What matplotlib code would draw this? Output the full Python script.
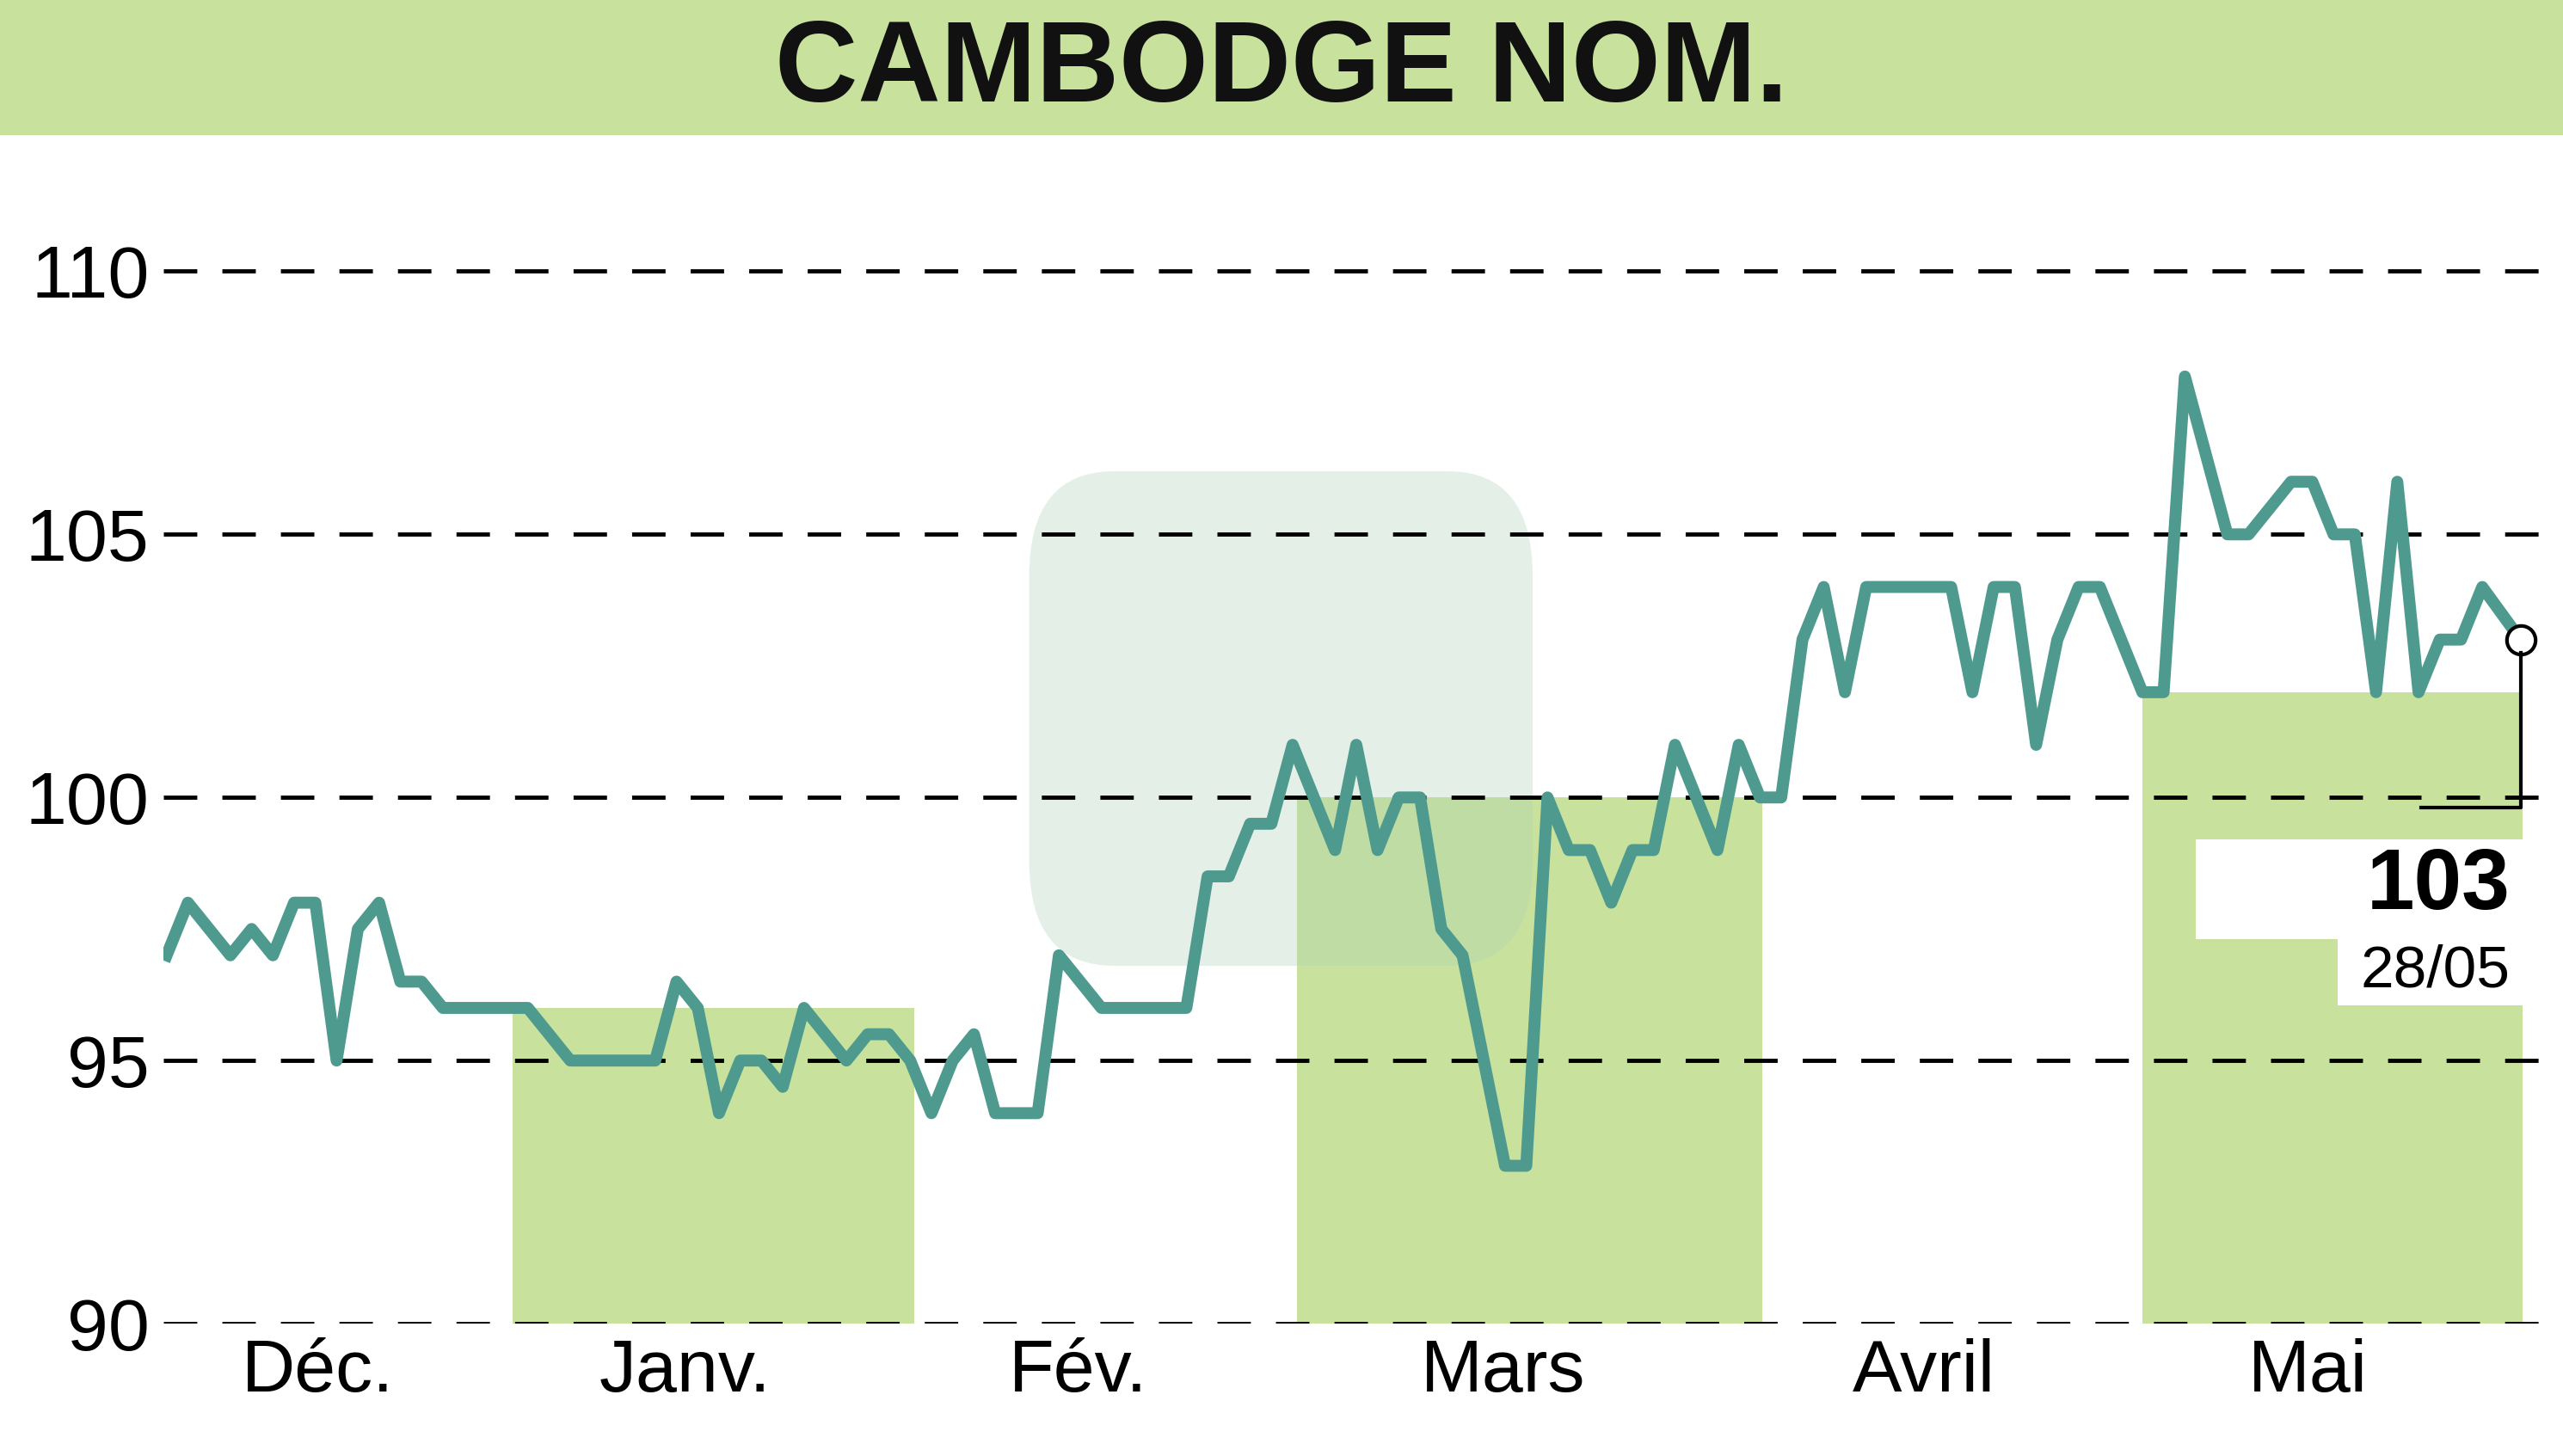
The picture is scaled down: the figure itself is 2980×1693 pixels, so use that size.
import matplotlib
matplotlib.use("Agg")
import matplotlib.pyplot as plt
from matplotlib.patches import Rectangle, FancyBboxPatch

title = "CAMBODGE NOM."
day_index = [0,1,3,4,5,6,7,8,9,10,11,12,13,14,15,16,17,19,23,24,25,26,27,28,29,30,32,33,34,35,36,37,38,39,41,42,44,48,49,50,51,52,53,55,56,57,58,59,60,61,63,64,65,66,67,68,69,70,71,73,74,75,76,77,78,79,80,84,85,86,87,88,89,90,91,93,94,95,97,98,100,101,102,103,104,105,106,107,108,109,110.8]
prices = [97,98,97,97.5,97,98,98,95,97.5,98,96.5,96.5,96,96,96,96,96,95,95,96.5,96,94,95,95,94.5,96,95,95.5,95.5,95,94,95,95.5,94,94,97,96,96,98.5,98.5,99.5,99.5,101,99,101,99,100,100,97.5,97,93,93,100,99,99,98,99,99,101,99,101,100,100,103,104,102,104,104,102,104,104,101,103,104,104,102,102,108,105,105,106,106,105,105,102,106,102,103,103,104,103]
month_labels = ["Déc.","Janv.","Fév.","Mars","Avril","Mai"]
month_pos = [7.1,24.4,42.9,62.9,82.7,100.8]
band_start = [16.3,53.2,93.0]
band_end = [35.2,75.1,110.9]
band_top = [96,100,102]
yticks = [90,95,100,105,110]
last_value = "103"
last_date = "28/05"

green = "#c8e29e"
line_c = "#4e9a8e"

fig = plt.figure(figsize=(29.8,16.93), dpi=100)
fig.patches.append(Rectangle((0,1-82/891),1,82/891,transform=fig.transFigure,color=green,zorder=0))
fig.text(0.5,1-44/891,title,ha="center",va="center",fontsize=96,fontweight="bold",
         family="Liberation Sans",color="#111")

ax = fig.add_axes([100/1568, 1-810/891, 1-100/1568, (810-101.6)/891])
ax.set_xlim(-0.15,112.8)
ax.set_ylim(90,112)
for s in ax.spines.values(): s.set_visible(False)
ax.set_yticks(yticks)
ax.set_yticklabels([str(v) for v in yticks], fontsize=62, family="Liberation Sans")
ax.tick_params(length=0, pad=12)
ax.set_xticks(month_pos)
ax.set_xticklabels(month_labels, fontsize=62, family="Liberation Sans")
for y in yticks:
    ax.axhline(y,color="black",ls=(0,(8,6)),lw=3.5,zorder=2)
for a,b,t in zip(band_start,band_end,band_top):
    ax.fill_between([a,b],90,t,color=green,lw=0,zorder=1)
# watermark
ax.add_patch(FancyBboxPatch((40.6,96.8),23.7,9.4,boxstyle="round,pad=0,rounding_size=4",
             color="#a8d0b0",alpha=0.3,lw=0,zorder=1.5,mutation_aspect=0.5))
ax.plot(day_index,prices,color=line_c,lw=10,zorder=3)
ax.plot(day_index[-1],prices[-1],"o",ms=24,mfc="white",mec="black",mew=3,zorder=4)
ax.plot([day_index[-1],day_index[-1],106.1],[prices[-1]-0.25,99.8,99.8],color="black",lw=3,zorder=4)
ax.add_patch(Rectangle((95.5,97.3),15.4,1.9,color="white",zorder=3.5,lw=0))
ax.add_patch(Rectangle((102.2,96.05),8.7,1.3,color="white",zorder=3.5,lw=0))
ax.text(110.3,98.3,last_value,ha="right",va="center",fontsize=72,fontweight="bold",family="Liberation Sans",zorder=5)
ax.text(110.3,96.7,last_date,ha="right",va="center",fontsize=50,family="Liberation Sans",zorder=5)
fig.savefig("out.png",dpi=100)
